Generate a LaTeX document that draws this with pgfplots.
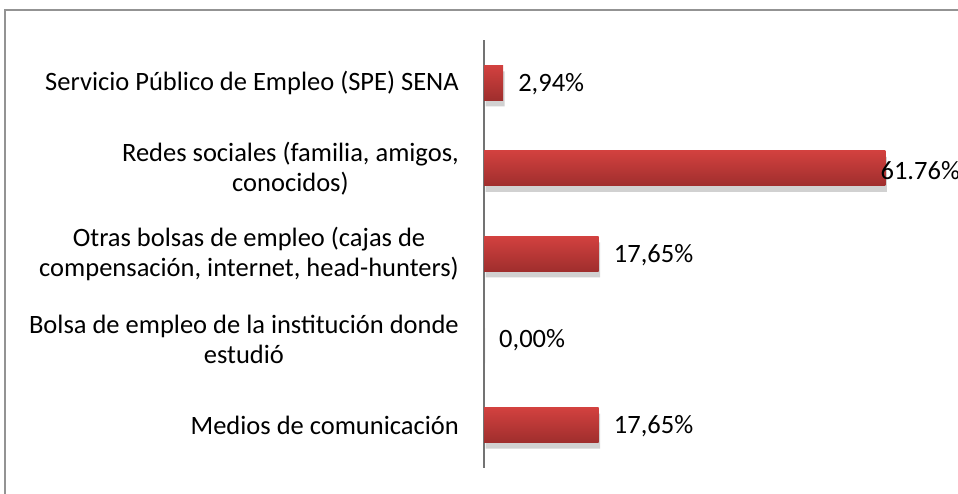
\documentclass[border=0pt]{standalone}
\usepackage{fontspec}
\setmainfont{Carlito}
\usepackage{pgfplots}
\pgfplotsset{compat=1.18}
\definecolor{barTop}{HTML}{D2413F}
\definecolor{barBot}{HTML}{9F2E2D}
\newcommand{\lblfont}{\fontsize{26.5}{30}\selectfont}
\pgfplotsset{
  mybar/.style={xbar, bar width=35pt, bar shift=0pt, draw=none, top color=barTop, bottom color=barBot,
    nodes near coords, point meta=explicit symbolic,
    every node near coord/.append style={anchor=west, inner sep=0pt, xshift=15pt, yshift=-1pt, font=\lblfont, text=black}},
}
\begin{document}
\begin{tikzpicture}[x=1pt,y=1pt]
\clip (0,0) rectangle (958,494);
\fill[white] (0,0) rectangle (958,494);
\draw[gray!85, line width=1.5pt] (5,-5) -- (5,484) -- (965,484);
\begin{axis}[
  at={(484pt,26pt)}, anchor=south west,
  scale only axis, width=410pt, height=428pt,
  xmin=0, xmax=63.08, ymin=-0.5, ymax=4.5,
  clip=false,
  axis x line=none,
  axis y line*=left,
  y axis line style={draw=gray!90!black, line width=1.2pt, -},
  ytick={0,1,2,3,4},
  yticklabels={
    {Medios de comunicación},
    {Bolsa de empleo de la institución donde\\estudió},
    {Otras bolsas de empleo (cajas de\\compensación, internet, head-hunters)},
    {Redes sociales (familia, amigos,\\conocidos)},
    {Servicio Público de Empleo (SPE) SENA}},
  major tick length=0pt,
  yticklabel style={align=center, anchor=east, inner sep=0pt, xshift=-25pt, font=\lblfont, text=black},
]
\addplot[xbar, bar width=35pt, bar shift=0pt, fill=black!18, draw=none, xshift=1.5pt, yshift=-6pt]
  coordinates {(17.65,0) (0,1) (17.65,2) (61.76,3) (2.94,4)};
\addplot[mybar] coordinates {(17.65,0)[17,65\%]};
\addplot[mybar] coordinates {(0,1)[0,00\%]};
\addplot[mybar] coordinates {(17.65,2)[17,65\%]};
\addplot[mybar, every node near coord/.append style={xshift=-20pt, yshift=-1pt}] coordinates {(61.76,3)[61.76\%]};
\addplot[mybar] coordinates {(2.94,4)[2,94\%]};
\end{axis}
\end{tikzpicture}
\end{document}
